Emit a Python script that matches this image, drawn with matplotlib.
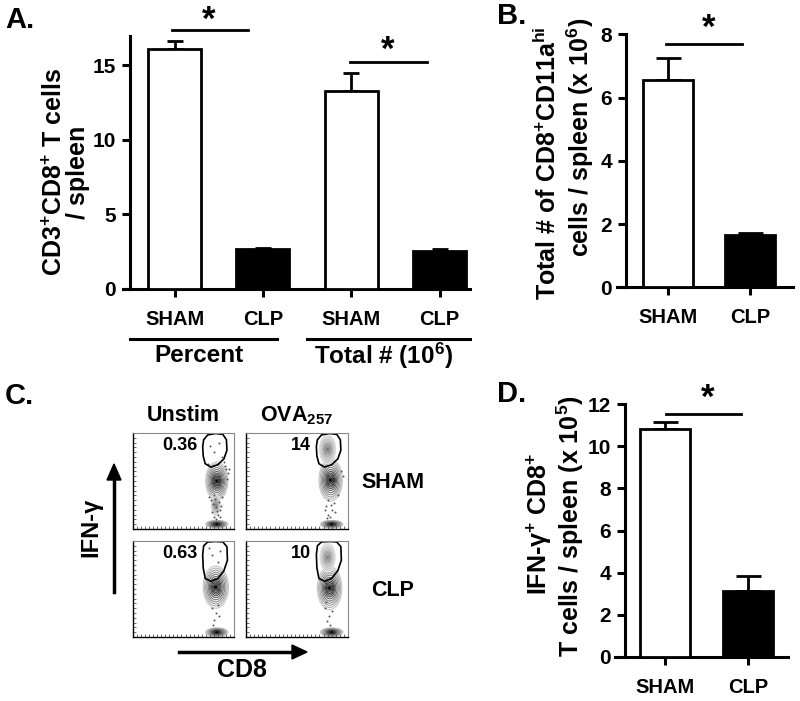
import matplotlib
matplotlib.use("Agg")
import matplotlib.pyplot as plt
from matplotlib.patches import Ellipse, Polygon
from matplotlib.ticker import MultipleLocator

plt.rcParams['font.family'] = ['Liberation Sans', 'DejaVu Sans']
plt.rcParams['font.weight'] = 'bold'
plt.rcParams['mathtext.fontset'] = 'custom'
plt.rcParams['mathtext.rm'] = 'Liberation Sans:bold'
plt.rcParams['mathtext.bf'] = 'Liberation Sans:bold'
plt.rcParams['mathtext.it'] = 'Liberation Sans:bold:italic'
plt.rcParams['mathtext.default'] = 'rm'

# ---- data ----
groups = ['SHAM', 'CLP']
a_values = [16.1, 2.65, 13.25, 2.58]
a_err = [0.55, 0.12, 1.25, 0.07]
b_values = [6.56, 1.66]
b_err = [0.68, 0.05]
d_values = [10.82, 3.14]
d_err = [0.36, 0.68]

flow_pct = [['0.36', '14'], ['0.63', '10']]
flow_cols = ['Unstim', 'OVA$_{257}$']
flow_rows = ['SHAM', 'CLP']
# clusters: (cx, cy, width, height, darkness)
flow_clusters = [
    [[(0.83, 0.50, 0.22, 0.40, 1.0), (0.82, 0.25, 0.09, 0.22, 0.5), (0.83, 0.05, 0.22, 0.08, 1.0)],
     [(0.83, 0.51, 0.23, 0.44, 1.0), (0.80, 0.83, 0.16, 0.30, 0.55), (0.84, 0.05, 0.22, 0.08, 1.0)]],
    [[(0.82, 0.52, 0.25, 0.44, 1.0), (0.83, 0.05, 0.22, 0.09, 1.0)],
     [(0.82, 0.51, 0.24, 0.45, 1.0), (0.80, 0.83, 0.15, 0.30, 0.5), (0.84, 0.05, 0.22, 0.09, 1.0)]],
]
gate_sham = [(0.70, 0.93), (0.74, 0.98), (0.82, 0.995), (0.89, 0.985), (0.925, 0.93), (0.93, 0.82),
             (0.90, 0.73), (0.84, 0.67), (0.77, 0.645), (0.715, 0.68), (0.695, 0.76), (0.69, 0.86)]
gate_clp = [(0.70, 0.95), (0.74, 0.99), (0.82, 0.995), (0.89, 0.99), (0.93, 0.94), (0.935, 0.80),
            (0.90, 0.69), (0.84, 0.61), (0.77, 0.58), (0.715, 0.61), (0.695, 0.72), (0.69, 0.86)]
flow_dots = [
    [[(0.80, 0.12), (0.84, 0.15), (0.78, 0.18), (0.86, 0.20), (0.82, 0.23), (0.79, 0.26), (0.85, 0.28),
      (0.81, 0.31), (0.88, 0.33), (0.77, 0.30), (0.83, 0.19), (0.80, 0.35), (0.86, 0.13), (0.92, 0.62),
      (0.94, 0.58), (0.90, 0.70), (0.93, 0.52), (0.80, 0.80), (0.85, 0.90), (0.76, 0.86), (0.88, 0.75),
      (0.75, 0.33), (0.87, 0.24), (0.82, 0.10), (0.91, 0.66), (0.74, 0.68), (0.95, 0.62)],
     [(0.80, 0.15), (0.84, 0.20), (0.78, 0.24), (0.86, 0.27), (0.82, 0.12), (0.80, 0.30), (0.87, 0.18),
      (0.77, 0.20), (0.90, 0.35), (0.93, 0.60), (0.83, 0.25), (0.79, 0.11), (0.95, 0.55)]],
    [[(0.78, 0.30), (0.82, 0.25), (0.80, 0.18), (0.85, 0.22), (0.79, 0.12), (0.84, 0.33), (0.78, 0.85),
      (0.84, 0.78), (0.86, 0.90), (0.75, 0.93)],
     [(0.77, 0.30), (0.81, 0.22), (0.79, 0.17), (0.84, 0.27), (0.78, 0.36), (0.82, 0.12)]],
]
ring_scales = [1.0, 0.9, 0.8, 0.7, 0.6, 0.5, 0.41, 0.33, 0.25, 0.18, 0.11, 0.05]
ring_grays = [0.78, 0.7, 0.62, 0.55, 0.47, 0.4, 0.32, 0.25, 0.15, 0.3, 0.1, 0.0]

W, H = 800, 701
fig = plt.figure(figsize=(8, 7.01), dpi=100)


def px_axes(x0, x1, ytop, ybot):
    return fig.add_axes([x0 / W, (H - ybot) / H, (x1 - x0) / W, (ybot - ytop) / H])


def style_bar_axes(ax, spine_x, xlim, ylim, yticks):
    for s in ['top', 'right']:
        ax.spines[s].set_visible(False)
    for s in ['left', 'bottom']:
        ax.spines[s].set_linewidth(2.2)
    ax.spines['left'].set_position(('data', spine_x))
    ax.spines['left'].set_bounds(0, ylim[1])
    ax.set_xlim(*xlim)
    ax.set_ylim(*ylim)
    ax.set_yticks(yticks)
    ax.tick_params(axis='y', length=6, width=2.2, labelsize=15, pad=4)
    ax.tick_params(axis='x', length=6, width=2.2, labelsize=14.5, pad=9)


def bars(ax, x, vals, errs, width, cap):
    colors = ['white', 'black'] * (len(vals) // 2)
    ax.bar(x, vals, width=width, color=colors, edgecolor='black', linewidth=2, zorder=3)
    ax.errorbar(x, vals, yerr=[[0] * len(vals), errs], fmt='none', ecolor='black',
                elinewidth=2, capsize=cap, capthick=2, zorder=2)


def sig(ax, x0, x1, y, sx, sy):
    ax.plot([x0, x1], [y, y], color='black', lw=2, clip_on=False)
    ax.text(sx, sy, '*', ha='center', va='center', fontsize=25, clip_on=False)


# ---- Panel A ----
axA = px_axes(123, 470, 35.5, 289)
xa = [0, 1, 2, 3]
bars(axA, xa, a_values, a_err, 0.6, 6)
style_bar_axes(axA, -0.506, (-0.585, 3.344), (0, 17), [0, 5, 10, 15])
axA.set_xticks(xa)
axA.set_xticklabels(groups * 2)
sig(axA, -0.03, 0.83, 17.37, 0.39, 18.0)
sig(axA, 1.99, 2.86, 15.25, 2.41, 16.0)
tr = axA.get_xaxis_transform()
axA.plot([-0.506, 1.159], [-0.197, -0.197], color='black', lw=2.2, transform=tr, clip_on=False)
axA.plot([1.498, 3.344], [-0.197, -0.197], color='black', lw=2.2, transform=tr, clip_on=False)
axA.text(0.28, -0.262, 'Percent', transform=tr, ha='center', va='center', fontsize=17.5)
axA.text(2.36, -0.262, 'Total # (10$^{6}$)', transform=tr, ha='center', va='center', fontsize=17.5)
fig.text(55 / W, 1 - 172 / H, 'CD3$^{+}$CD8$^{+}$ T cells', rotation=90, ha='center', va='center', fontsize=18)
fig.text(78 / W, 1 - 172 / H, '/ spleen', rotation=90, ha='center', va='center', fontsize=18)

# ---- Panel B ----
axB = px_axes(617, 793, 34.3, 287.3)
xb = [0, 1]
bars(axB, xb, b_values, b_err, 0.61, 9)
style_bar_axes(axB, -0.512, (-0.622, 1.524), (0, 8), [0, 2, 4, 6, 8])
axB.set_xticks(xb)
axB.set_xticklabels(groups)
sig(axB, -0.02, 0.90, 7.69, 0.49, 8.2)
fig.text(547 / W, 1 - 163.5 / H, 'Total # of CD8$^{+}$CD11a$^{\\mathrm{hi}}$', rotation=90,
         ha='center', va='center', fontsize=18)
fig.text(580 / W, 1 - 137.5 / H, 'cells / spleen (x 10$^{6}$)', rotation=90,
         ha='center', va='center', fontsize=18)

# ---- Panel D ----
axD = px_axes(615, 788, 404.3, 656.7)
bars(axD, xb, d_values, d_err, 0.6, 9)
style_bar_axes(axD, -0.482, (-0.602, 1.482), (0, 12), [0, 2, 4, 6, 8, 10, 12])
axD.set_xticks(xb)
axD.set_xticklabels(groups)
sig(axD, 0.01, 0.92, 11.55, 0.52, 12.3)
fig.text(539 / W, 1 - 524 / H, 'IFN-γ$^{+}$ CD8$^{+}$', rotation=90, ha='center', va='center', fontsize=18)
fig.text(570 / W, 1 - 526 / H, 'T cells / spleen (x 10$^{5}$)', rotation=90,
         ha='center', va='center', fontsize=18)

# ---- Panel C (flow plots) ----
col_x = [(133, 234), (246, 348)]
row_y = [(433, 529), (541, 637)]
for r in range(2):
    for c in range(2):
        ax = px_axes(col_x[c][0], col_x[c][1], row_y[r][0], row_y[r][1])
        ax.set_xlim(0, 1)
        ax.set_ylim(0, 1)
        ax.set_xticks([])
        ax.set_yticks([])
        ax.xaxis.set_minor_locator(MultipleLocator(0.04))
        ax.yaxis.set_minor_locator(MultipleLocator(0.05))
        ax.tick_params(which='minor', direction='in', length=2, width=0.6, colors='#555555')
        for s in ['top', 'right']:
            ax.spines[s].set_color('#888888')
            ax.spines[s].set_linewidth(0.8)
        for s in ['left', 'bottom']:
            ax.spines[s].set_linewidth(1.0)
        for cx, cy, w, h, dark in flow_clusters[r][c]:
            for sc, g in zip(ring_scales, ring_grays):
                gg = 1 - (1 - g) * dark
                ax.add_patch(Ellipse((cx, cy), w * sc, h * sc, fill=False,
                                     edgecolor=str(gg), lw=0.8))
        dx = [p[0] for p in flow_dots[r][c]]
        dy = [p[1] for p in flow_dots[r][c]]
        ax.scatter(dx, dy, s=2, color='#555555', lw=0)
        gate = gate_sham if r == 0 else gate_clp
        ax.add_patch(Polygon(gate, closed=True, fill=False, edgecolor='black', lw=1.2,
                             joinstyle='round'))
        ax.text(0.64, 0.875, flow_pct[r][c], ha='right', va='center', fontsize=13)
        if r == 0:
            ax.text(0.5, 1.18, flow_cols[c], transform=ax.transAxes, ha='center', va='center',
                    fontsize=15.5)
    fig.text(393 / W, 1 - (483 if r == 0 else 590) / H, flow_rows[r], ha='center', va='center',
             fontsize=15.5)

fig.add_artist(plt.Line2D([114 / W, 114 / W], [1 - 592 / H, 1 - 480 / H], color='black', lw=2.5))
fig.add_artist(plt.Polygon([[107 / W, 1 - 480 / H], [121 / W, 1 - 480 / H], [114 / W, 1 - 464 / H]],
                           closed=True, color='black'))
fig.add_artist(plt.Line2D([179 / W, 292 / W], [1 - 652 / H, 1 - 652 / H], color='black', lw=2.5))
fig.add_artist(plt.Polygon([[292 / W, 1 - 645 / H], [292 / W, 1 - 659 / H], [307 / W, 1 - 652 / H]],
                           closed=True, color='black'))
fig.text(91 / W, 1 - 527 / H, 'IFN-γ', rotation=90, ha='center', va='center', fontsize=17)
fig.text(242 / W, 1 - 670 / H, 'CD8', ha='center', va='center', fontsize=18)

# ---- panel letters ----
for lab, x, y in [('A.', 5, 20), ('B.', 497, 16), ('C.', 5, 396), ('D.', 497, 394)]:
    fig.text(x / W, 1 - y / H, lab, ha='left', va='center', fontsize=21)

fig.savefig('out.png', dpi=100)
